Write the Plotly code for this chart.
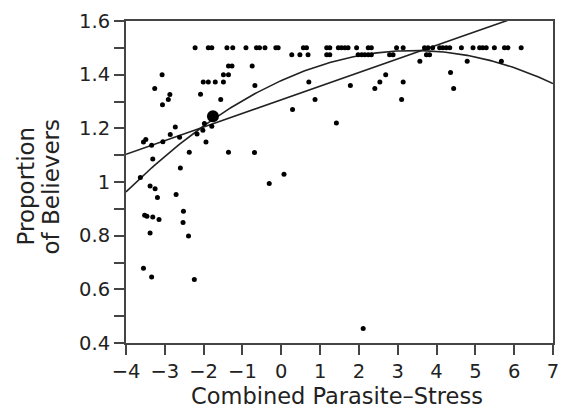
import numpy as np
import plotly.graph_objects as go

# Countries at the ceiling value (~1.50)
top_x = [-2.22, -1.88, -1.79, -1.40, -1.25, -0.91, -0.64, -0.56, -0.42, -0.14, -0.08,
         0.57, 0.65, 1.17, 1.25, 1.47, 1.55, 1.64, 1.72, 1.94, 2.24, 2.32, 2.97, 3.14,
         3.69, 3.78, 3.90, 4.08, 4.16, 4.25, 4.34, 4.64, 4.94, 5.11, 5.19, 5.28, 5.49,
         5.75, 5.84, 6.18]
top_y = [1.50] * len(top_x)

# Row just below (~1.47)
row2_x = [0.27, 0.48, 0.69, 1.17, 1.25, 1.98, 2.07, 2.15, 2.24, 2.32, 2.79, 2.88, 3.74, 3.82]
row2_y = [1.474] * len(row2_x)

# Remaining countries
other_x = [-0.75, -1.36, -1.27, -1.49, -1.36, -2.01, -1.88, -1.70, -1.49, -0.68,
           -3.07, -3.26, -2.87, -2.91, -3.06, -2.08, -1.56, 0.71, 0.87, 0.29, 1.42,
           -3.55, -3.49, -3.34, -3.05, -2.86, -2.73, -2.62, -2.37, -2.17, -2.02, -1.98,
           -1.94, -1.79, -1.36, -0.69, -3.31, -2.60, -3.63, -3.38, -3.25, -3.19, -2.71,
           -3.52, -3.46, -3.31, -3.15, -2.52, -2.53, -3.38, -2.39, -3.55, -3.34, -2.24,
           -0.31, 0.07, 2.11, 3.57, 4.79, 5.67, 2.69, 2.54, 3.14, 4.36, 4.44, 1.78,
           2.41, 3.10]
other_y = [1.432, 1.432, 1.432, 1.400, 1.400, 1.373, 1.373, 1.373, 1.373, 1.360,
           1.400, 1.348, 1.326, 1.307, 1.288, 1.327, 1.307, 1.373, 1.307, 1.270, 1.220,
           1.149, 1.158, 1.137, 1.150, 1.177, 1.205, 1.167, 1.111, 1.179, 1.193, 1.218,
           1.149, 1.208, 1.111, 1.110, 1.086, 1.052, 1.017, 0.985, 0.975, 0.942, 0.953,
           0.876, 0.872, 0.870, 0.860, 0.891, 0.849, 0.810, 0.799, 0.679, 0.646, 0.637,
           0.994, 1.029, 0.454, 1.450, 1.450, 1.450, 1.400, 1.373, 1.373, 1.408, 1.348,
           1.360, 1.348, 1.307]

# Highlighted point
big_x = [-1.76]
big_y = [1.245]

# Fitted models
lin_coef = [1.3062, 0.0508]              # intercept, slope
quad_coef = [1.3781, 0.06547, -0.00958]  # c0, c1, c2

x_ticks = list(range(-4, 8))
x_title = "Combined Parasite–Stress"
y_title_lines = ["Proportion", "of Believers"]

xs = np.linspace(-4, 7, 200)
lin_y = lin_coef[0] + lin_coef[1] * xs
quad_y = quad_coef[0] + quad_coef[1] * xs + quad_coef[2] * xs ** 2

pts_x = top_x + row2_x + other_x
pts_y = top_y + row2_y + other_y

ink = "#222222"
axc = "#444444"
fig = go.Figure()
fig.add_trace(go.Scatter(x=xs, y=lin_y, mode="lines", line=dict(color=ink, width=1.6),
                         showlegend=False, hoverinfo="skip"))
fig.add_trace(go.Scatter(x=xs, y=quad_y, mode="lines", line=dict(color=ink, width=1.6),
                         showlegend=False, hoverinfo="skip"))
fig.add_trace(go.Scatter(x=pts_x, y=pts_y, mode="markers",
                         marker=dict(color="black", size=5), showlegend=False))
fig.add_trace(go.Scatter(x=big_x, y=big_y, mode="markers",
                         marker=dict(color="black", size=12), showlegend=False))

font = "DejaVu Sans"
fig.update_layout(
    width=571, height=408,
    margin=dict(l=126, r=18, t=21, b=65),
    paper_bgcolor="white", plot_bgcolor="white",
    font=dict(family=font, size=19.5, color=ink),
    xaxis=dict(range=[-4, 7], tickvals=x_ticks, ticks="outside", ticklen=10,
               tickwidth=1.5, tickcolor=axc, showline=True, linecolor=axc,
               linewidth=2, mirror=True, showgrid=False, zeroline=False,
               automargin=False),
    yaxis=dict(range=[0.4, 1.6], dtick=0.2, tick0=0.4, ticks="outside", ticklen=10,
               tickwidth=1.5, tickcolor=axc, showline=True, linecolor=axc,
               linewidth=2, mirror=True, showgrid=False, zeroline=False,
               automargin=False,
               minor=dict(dtick=0.1, ticks="outside", ticklen=10, tickwidth=1.5,
                          tickcolor=axc, showgrid=False)),
)

# Axis titles as annotations for precise placement
fig.add_annotation(text=x_title, xref="paper", yref="paper", x=0.495, y=0,
                   xanchor="center", yanchor="middle", yshift=-53, showarrow=False,
                   font=dict(size=22.5, color=ink))
for line, xs_px in zip(y_title_lines, [-100, -75]):
    fig.add_annotation(text=line, xref="paper", yref="paper", x=0, y=0.486,
                       xanchor="center", yanchor="middle", xshift=xs_px,
                       textangle=-90, showarrow=False, font=dict(size=23, color=ink))

fig.write_html("out.html", config={"displayModeBar": False},
               post_script="document.body.style.margin='0';")
